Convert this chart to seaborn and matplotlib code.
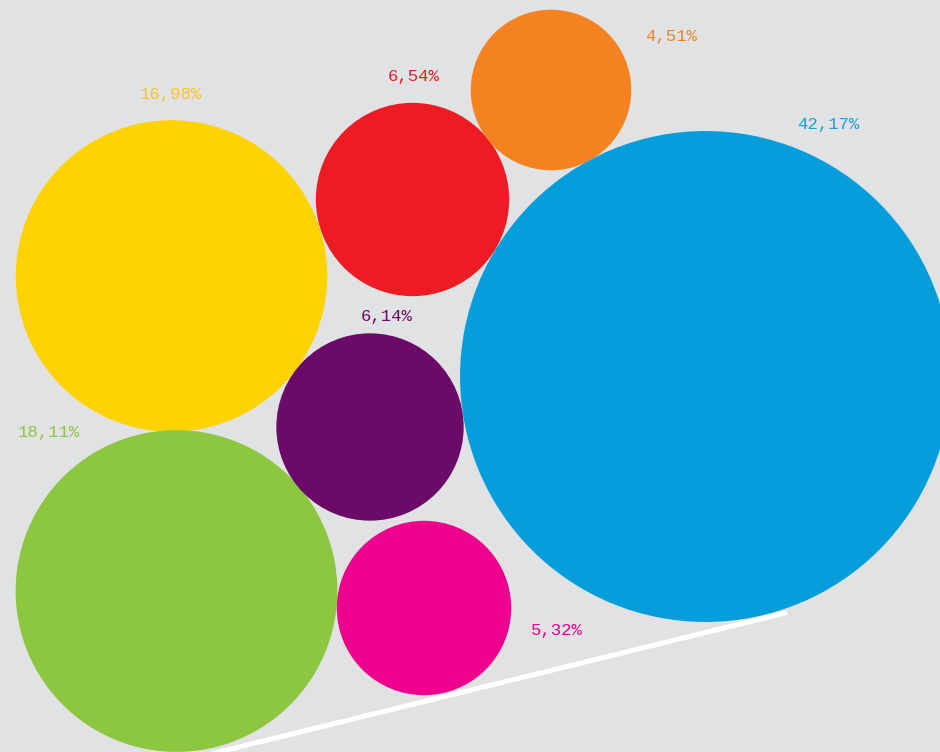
import matplotlib.pyplot as plt
import seaborn as sns
import pandas as pd

# Data
labels = ["16,98%", "18,11%", "6,54%", "4,51%", "6,14%", "5,32%", "42,17%"]
values = [16.98, 18.11, 6.54, 4.51, 6.14, 5.32, 42.17]
cx = [171.5, 176.5, 412.5, 551, 370, 424, 705.5]
cy = [276, 591, 199.5, 90, 427, 608, 376.5]
colors = ["#FFD204", "#8DC63F", "#ED1C24", "#F58220", "#6C0A68", "#EC008C", "#069DDB"]
text_colors = ["#FBC02D", "#8DC63F", "#ED1C24", "#F58220", "#6C0A68", "#EC008C", "#1E9FDB"]

# label anchor points (left edge, vertical center)
lab_x = [140, 18, 388, 645, 361, 531, 797]
lab_y = [95, 433, 77, 37, 316, 631, 124]

# white guide line
line_x = [190, 785]
line_y = [759, 613]

df = pd.DataFrame({"x": cx, "y": cy, "value": values, "label": labels})

bg = "#E1E2E4"
fig = plt.figure(figsize=(9.4, 7.52), dpi=100, facecolor=bg)
ax = fig.add_axes([0, 0, 1, 1])
ax.set_facecolor(bg)

ax.plot(line_x, line_y, color="white", lw=3.6, solid_capstyle="round", zorder=1)

# marker area proportional to value; radius = 37.8 px * sqrt(value)
k = 37.8
vmax = max(values)
smax = (2 * k * vmax ** 0.5 * 0.72) ** 2
sns.scatterplot(data=df, x="x", y="y", size="value", hue="label",
                palette=dict(zip(labels, colors)), sizes=(0, smax),
                size_norm=(0, vmax), linewidth=0, alpha=1, legend=False,
                ax=ax, zorder=2)

for t, x, y, c in zip(labels, lab_x, lab_y, text_colors):
    ax.text(x, y, t, color=c, fontsize=12.5, family="Liberation Mono",
            ha="left", va="center", zorder=3)

ax.set_xlim(0, 940)
ax.set_ylim(752, 0)
ax.axis("off")

plt.savefig("out.png", dpi=100, facecolor=bg)
plt.close()
